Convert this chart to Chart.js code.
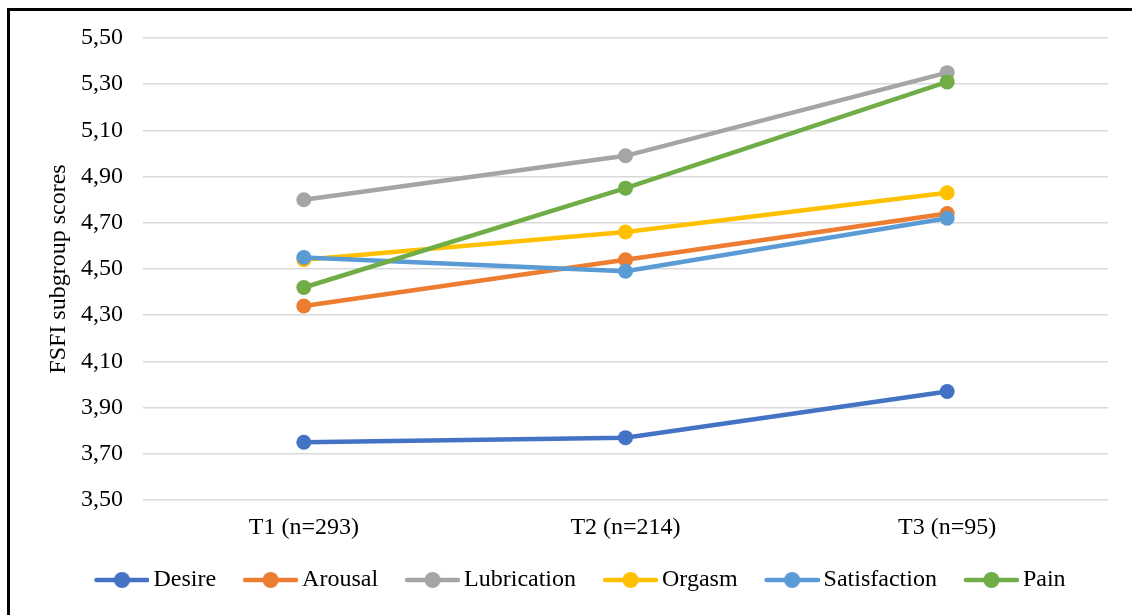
<!DOCTYPE html>
<html>
<head>
<meta charset="utf-8">
<script src="https://cdn.jsdelivr.net/npm/chart.js@4.4.1/dist/chart.umd.min.js"></script>
<style>
  html, body { margin: 0; padding: 0; background: #fff; overflow: hidden; }
  #wrap { position: relative; width: 1132px; height: 615px; }
  #frame { position: absolute; left: 7px; top: 8px; width: 1200px; height: 700px;
           border-left: 3px solid #000; border-top: 3px solid #000; }
  #fsfiChart { position: absolute; left: 0; top: 0; }
</style>
</head>
<body>
<div id="wrap">
  <div id="frame"></div>
  <canvas id="fsfiChart" width="1132" height="615"></canvas>
</div>
<script>
const timepoints = ['T1 (n=293)', 'T2 (n=214)', 'T3 (n=95)'];

const desire       = [3.75, 3.77, 3.97];
const arousal      = [4.34, 4.54, 4.74];
const lubrication  = [4.80, 4.99, 5.35];
const orgasm       = [4.54, 4.66, 4.83];
const satisfaction = [4.55, 4.49, 4.72];
const pain         = [4.42, 4.85, 5.31];

const seriesNames  = ['Desire', 'Arousal', 'Lubrication', 'Orgasm', 'Satisfaction', 'Pain'];
const seriesValues = [desire, arousal, lubrication, orgasm, satisfaction, pain];
const seriesColors = ['#4472C4', '#ED7D31', '#A5A5A5', '#FFC000', '#5B9BD5', '#70AD47'];

const yMin = 3.5, yMax = 5.5, yStep = 0.2;

const FONT = 'Liberation Serif, Times New Roman, serif';
const FSIZE = 24;

// legend marker: line with a dot, shifted right so the text sits close to it
function legendMarker(color) {
  const c = document.createElement('canvas');
  c.width = 71;
  c.height = 18;
  const g = c.getContext('2d');
  g.strokeStyle = color;
  g.lineWidth = 4.5;
  g.lineCap = 'round';
  g.beginPath();
  g.moveTo(18, 9);
  g.lineTo(69, 9);
  g.stroke();
  g.fillStyle = color;
  g.beginPath();
  g.arc(43.5, 9, 8, 0, Math.PI * 2);
  g.fill();
  return c;
}

const datasets = seriesNames.map((name, i) => ({
  label: name,
  data: seriesValues[i],
  borderColor: seriesColors[i],
  backgroundColor: seriesColors[i],
  pointBackgroundColor: seriesColors[i],
  pointBorderWidth: 0,
  borderWidth: 4.5,
  pointRadius: 7.5,
  tension: 0,
  order: seriesNames.length - i   // later series drawn on top
}));

const ctx = document.getElementById('fsfiChart').getContext('2d');

const fsfiChart = new Chart(ctx, {
  type: 'line',
  data: { labels: timepoints, datasets: datasets },
  options: {
    responsive: false,
    animation: false,
    layout: { padding: { left: 44, right: 24, top: 38, bottom: 13 } },
    plugins: {
      tooltip: { enabled: false },
      legend: {
        position: 'bottom',
        labels: {
          usePointStyle: true,
          pointStyleWidth: 55,
          padding: 19,
          color: '#000',
          font: { family: FONT, size: FSIZE },
          sort: (a, b) => a.datasetIndex - b.datasetIndex,
          generateLabels: chart => {
            const items = Chart.defaults.plugins.legend.labels.generateLabels(chart);
            items.forEach(it => { it.pointStyle = legendMarker(seriesColors[it.datasetIndex]); });
            return items;
          }
        }
      }
    },
    scales: {
      x: {
        offset: true,
        grid: { display: false, drawTicks: false },
        border: { display: false },
        ticks: { color: '#000', padding: 13, font: { family: FONT, size: FSIZE } },
        afterFit: s => { s.height = 49; }
      },
      y: {
        min: yMin,
        max: yMax,
        grid: { color: '#d9d9d9', lineWidth: 1.5, drawTicks: false },
        border: { display: false },
        ticks: {
          stepSize: yStep,
          color: '#000',
          padding: 20,
          font: { family: FONT, size: FSIZE },
          callback: v => v.toFixed(2).replace('.', ',')
        },
        title: {
          display: true,
          text: 'FSFI subgroup scores',
          color: '#000',
          padding: 0,
          font: { family: FONT, size: FSIZE }
        },
        afterFit: s => { s.width = 99; }
      }
    }
  }
});
</script>
</body>
</html>
